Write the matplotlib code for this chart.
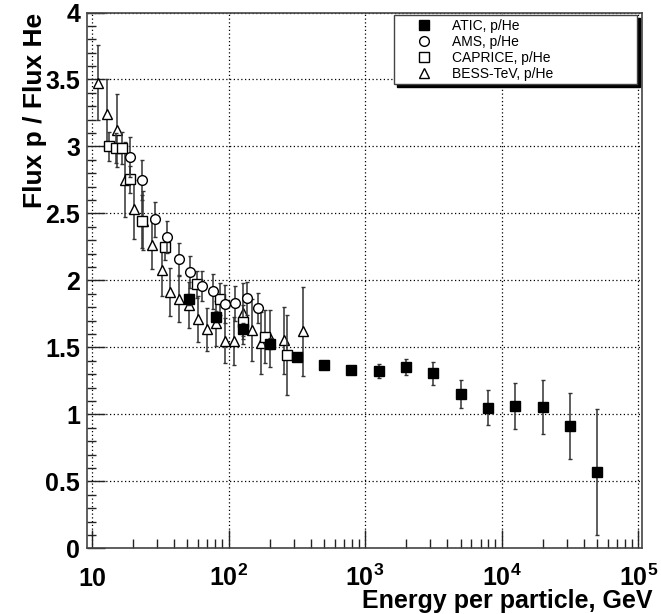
import matplotlib
matplotlib.use("Agg")
import matplotlib.pyplot as plt
from matplotlib.ticker import FixedLocator, NullFormatter, LogLocator
from matplotlib.lines import Line2D
import numpy as np

plt.rcParams['font.family'] = ['Liberation Sans', 'DejaVu Sans']
plt.rcParams['mathtext.fontset'] = 'custom'
plt.rcParams['mathtext.rm'] = 'Liberation Sans'
plt.rcParams['mathtext.bf'] = 'Liberation Sans:bold'

# ---------------- data ----------------
atic_E = [51.5, 80.9, 126.8, 200, 318, 500, 794, 1259, 1995, 3162, 5012, 7943, 12589, 19953, 31623, 50119]
atic_R = [1.858, 1.73, 1.634, 1.527, 1.425, 1.368, 1.331, 1.323, 1.355, 1.306, 1.149, 1.049, 1.064, 1.054, 0.913, 0.572]
atic_err = [0.04, 0.04, 0.05, 0.04, 0.03, 0.02, 0.02, 0.05, 0.06, 0.087, 0.105, 0.13, 0.17, 0.2, 0.245, 0.47]

ams_E = [19.0, 23.2, 29.0, 35.5, 43.1, 52.0, 63.5, 77.2, 93.5, 112.5, 135.6, 164]
ams_R = [2.92, 2.75, 2.455, 2.325, 2.157, 2.064, 1.96, 1.92, 1.823, 1.828, 1.865, 1.795]
ams_err = [0.15, 0.15, 0.13, 0.12, 0.12, 0.12, 0.11, 0.13, 0.14, 0.13, 0.12, 0.11]

caprice_E = [13.4, 15.0, 16.5, 19.1, 23.2, 34.0, 58.3, 86.5, 127.5, 186, 270]
caprice_R = [3.0, 2.99, 2.99, 2.755, 2.44, 2.25, 1.97, 1.86, 1.69, 1.58, 1.445]
caprice_err = [0.11, 0.11, 0.12, 0.1, 0.2, 0.1, 0.1, 0.12, 0.13, 0.2, 0.3]

bess_E = [11.1, 12.9, 15.2, 17.5, 20.4, 23.8, 27.6, 32.4, 37.6, 43.6, 51.5, 60, 69.5, 80.4, 94.2, 110.5, 128.3, 147.6, 172, 201, 253, 352]
bess_R = [3.475, 3.24, 3.12, 2.75, 2.53, 2.445, 2.265, 2.077, 1.915, 1.86, 1.816, 1.713, 1.635, 1.68, 1.55, 1.55, 1.754, 1.63, 1.535, 1.567, 1.555, 1.62]
bess_err = [0.28, 0.26, 0.27, 0.28, 0.22, 0.22, 0.18, 0.19, 0.18, 0.17, 0.17, 0.17, 0.16, 0.17, 0.17, 0.18, 0.23, 0.23, 0.23, 0.21, 0.25, 0.33]

legend_labels = ["ATIC, p/He", "AMS, p/He", "CAPRICE, p/He", "BESS-TeV, p/He"]
ytick_vals = [0, 0.5, 1, 1.5, 2, 2.5, 3, 3.5, 4]
ytick_labels = ["0", "0.5", "1", "1.5", "2", "2.5", "3", "3.5", "4"]
xtick_vals = [10, 100, 1000, 10000, 100000]
xtick_labels = [r"$\mathbf{10}$", r"$\mathbf{10^{2}}$", r"$\mathbf{10^{3}}$", r"$\mathbf{10^{4}}$", r"$\mathbf{10^{5}}$"]

# ---------------- figure ----------------
fig = plt.figure(figsize=(6.61, 6.14), dpi=100)
ax = fig.add_axes([0.1316, 0.107, 0.8392, 0.8726])

ecol = '#333333'
ms = 7
common = dict(ls='none', ecolor=ecol, elinewidth=1.1, capsize=1.6, capthick=1.0,
              markersize=ms, markeredgewidth=1.0, markeredgecolor='black')

ax.errorbar(bess_E, bess_R, yerr=bess_err, marker='^', mfc='white', zorder=3, **common)
ax.errorbar(caprice_E, caprice_R, yerr=caprice_err, marker='s', mfc='white', zorder=4, **common)
ax.errorbar(ams_E, ams_R, yerr=ams_err, marker='o', mfc='white', zorder=5, **common)
ax.errorbar(atic_E, atic_R, yerr=atic_err, marker='s', mfc='black', zorder=6, **common)

ax.set_xscale('log')
ax.set_xlim(9.2, 1.06e5)
ax.set_ylim(0, 4)

ax.xaxis.set_major_locator(FixedLocator(xtick_vals))
ax.set_xticklabels(xtick_labels)
ax.xaxis.set_minor_locator(LogLocator(base=10, subs=np.arange(2, 10)))
ax.xaxis.set_minor_formatter(NullFormatter())
ax.set_yticks(ytick_vals)
ax.set_yticklabels(ytick_labels)
ax.set_yticks(np.arange(0, 4.01, 0.1), minor=True)

ax.tick_params(which='both', direction='in', top=False, right=False, color='#222222', width=1.0)
ax.tick_params(which='major', length=13, labelsize=18)
ax.tick_params(which='minor', length=6.5)
ax.tick_params(axis='y', which='major', pad=5)
ax.tick_params(axis='x', which='major', pad=27)
for lbl in ax.get_xticklabels() + ax.get_yticklabels():
    lbl.set_fontweight('bold')
for t in ax.xaxis.get_major_ticks():
    t.label1.set_va('baseline')

ax.grid(True, which='major', ls=(0, (1, 2)), color='black', lw=0.9)
for s in ax.spines.values():
    s.set_color('#444444')
    s.set_linewidth(1.2)

ax.set_xlabel("Energy per particle, GeV", fontsize=18, fontweight='bold', ha='right', va='top')
ax.xaxis.set_label_coords(1.0186, -0.076)
ax.set_ylabel("Flux p / Flux He", fontsize=19, fontweight='bold', ha='right', va='bottom')
ax.yaxis.set_label_coords(-0.072, 1.0)

markers = [('s', 'black'), ('o', 'white'), ('s', 'white'), ('^', 'white')]
proxies = [Line2D([], [], ls='none', marker=m, mfc=c, mec='black', mew=1.0, markersize=ms)
           for m, c in markers]
leg = ax.legend(proxies, legend_labels,
                loc='upper left', bbox_to_anchor=(0.5535, 0.995, 0.4385, 0.0),
                mode='expand', borderaxespad=0, fancybox=False,
                shadow={'color': 'black', 'alpha': 1.0}, edgecolor='#444444',
                framealpha=1.0, fontsize=10, labelspacing=0.15, handlelength=3.8,
                handletextpad=0.1, borderpad=0.25)
leg.get_frame().set_linewidth(1.0)
leg.set_zorder(10)

fig.savefig("out.png", dpi=100)
